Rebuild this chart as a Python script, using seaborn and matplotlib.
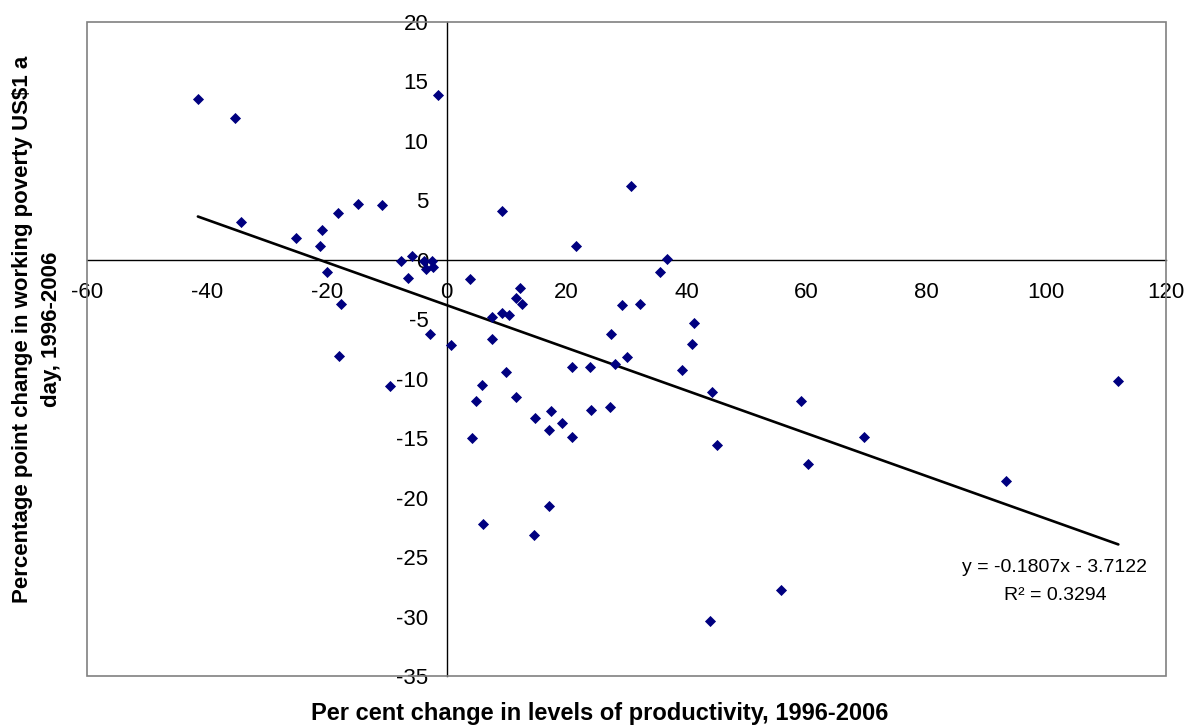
import numpy as np
import pandas as pd
import matplotlib
matplotlib.use('Agg')
import matplotlib.pyplot as plt
import seaborn as sns

# Per cent change in productivity vs. change in working poverty (US$1 a day), 1996-2006
productivity_change = [
    -41.5, -35.3, -34.3, -25.2, -20.8, -21.2, -18.2, -14.8, -10.8, -1.5,
    -19.9, -7.7, -5.8, -6.5, -3.4, -2.4, -2.2, -3.7, -17.6, -17.9,
    -2.8, -9.5, 0.7, 3.9, 7.5, 7.6, 5.9, 4.95, 4.3, 9.3,
    21.6, 30.8, 36.7, 35.6, 12.2, 11.55, 12.6, 9.2, 10.4, 29.3,
    32.2, 27.4, 30.0, 41.3, 40.9, 20.9, 23.9, 28.05, 39.3, 44.2,
    24.0, 27.2, 19.3, 20.9, 9.9, 11.6, 14.7, 17.4, 17.05, 17.1,
    6.0, 14.55, 59.05, 45.1, 69.6, 60.3, 93.3, 112.05, 55.7, 43.9,
]
poverty_change = [
    13.5, 11.9, 3.2, 1.8, 2.5, 1.2, 3.9, 4.7, 4.6, 13.9,
    -1.0, -0.1, 0.3, -1.5, -0.8, -0.1, -0.6, -0.1, -3.7, -8.1,
    -6.25, -10.6, -7.15, -1.65, -4.8, -6.7, -10.5, -11.9, -15.0, 4.1,
    1.15, 6.2, 0.1, -1.0, -2.4, -3.2, -3.7, -4.5, -4.65, -3.8,
    -3.7, -6.2, -8.2, -5.3, -7.1, -9.05, -9.05, -8.75, -9.3, -11.15,
    -12.6, -12.4, -13.7, -14.9, -9.45, -11.5, -13.3, -12.7, -14.3, -20.7,
    -22.2, -23.15, -11.9, -15.6, -14.9, -17.2, -18.6, -10.2, -27.8, -30.4,
]
trend_eq = "y = -0.1807x - 3.7122"
trend_r2 = "R² = 0.3294"

df = pd.DataFrame({'productivity': productivity_change, 'poverty': poverty_change})

sns.set_style('white')
plt.rcParams['font.family'] = ['Liberation Sans', 'DejaVu Sans']
plt.rcParams['axes.unicode_minus'] = False
plt.rcParams['text.color'] = 'black'
plt.rcParams['axes.labelcolor'] = 'black'

fig = plt.figure(figsize=(11.98, 7.26), dpi=100)
ax = fig.add_axes([87 / 1198, 50 / 726, 1079 / 1198, 654 / 726])

sns.scatterplot(data=df, x='productivity', y='poverty', marker='D', s=32,
                color='#000080', linewidth=0, ax=ax, zorder=3)
sns.regplot(data=df, x='productivity', y='poverty', scatter=False, ci=None,
            color='black', line_kws={'linewidth': 1.9}, ax=ax)

ax.set_xlim(-60, 120)
ax.set_ylim(-35, 20)
ax.set_xticks(np.arange(-60, 121, 20))
ax.set_yticks(np.arange(-35, 21, 5))

# axes cross at zero, Excel style
ax.spines['left'].set_position(('data', 0))
ax.spines['bottom'].set_position(('data', 0))
ax.spines['top'].set_visible(False)
ax.spines['right'].set_visible(False)
for side in ['left', 'bottom']:
    ax.spines[side].set_color('black')
    ax.spines[side].set_linewidth(1.0)
ax.add_patch(plt.Rectangle((0, 0), 1, 1, transform=ax.transAxes, fill=False,
                           edgecolor='#808080', linewidth=1.2, zorder=5, clip_on=False))

ax.tick_params(axis='both', direction='out', length=5, width=1.2, color='#808080',
               labelsize=16, labelcolor='black')
ax.tick_params(axis='x', pad=11)
ax.tick_params(axis='y', pad=8)

ax.set_xlabel('Per cent change in levels of productivity, 1996-2006',
              fontsize=17, fontweight='bold')
ax.xaxis.set_label_coords(0.475, -0.04)
ax.set_ylabel('Percentage point change in working poverty US$1 a\nday, 1996-2006',
              fontsize=16, fontweight='bold', linespacing=1.5)
ax.yaxis.set_label_coords(-0.023, 0.53)

fig.text(1055 / 1198, 1 - 567 / 726, trend_eq, fontsize=14, ha='center', va='center')
fig.text(1055 / 1198, 1 - 595 / 726, trend_r2, fontsize=14, ha='center', va='center')

fig.savefig('out.png', dpi=100)
